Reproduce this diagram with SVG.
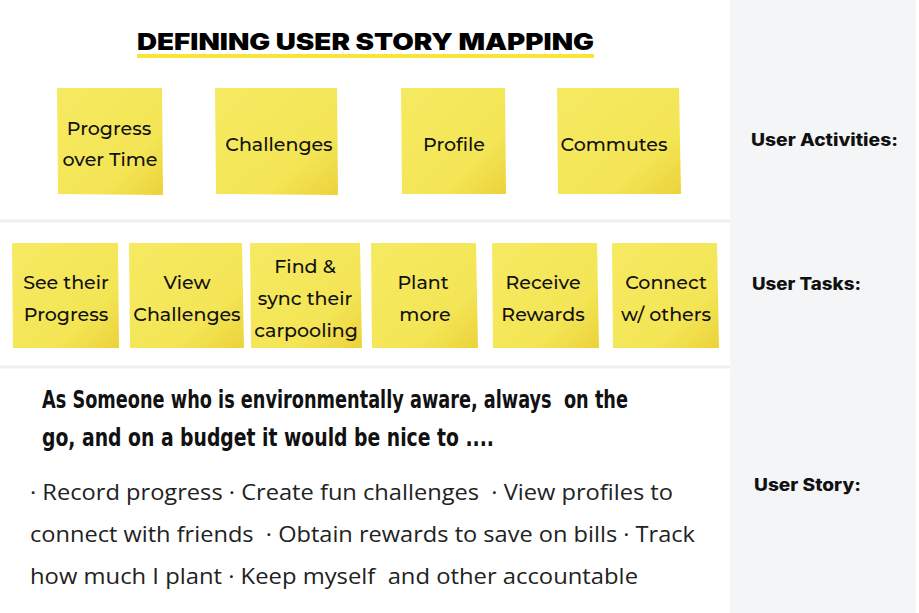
<svg xmlns="http://www.w3.org/2000/svg" width="919" height="613" viewBox="0 0 919 613">
<defs>
<linearGradient id="sticky" x1="0" y1="0" x2="1" y2="1">
<stop offset="0" stop-color="#f6ea62"/>
<stop offset="0.7" stop-color="#f3e555"/>
<stop offset="1" stop-color="#ecd23a"/>
</linearGradient>
<style>
.note{fill:url(#sticky);}
.nt{font-family:"Montserrat","Inter","Liberation Sans",sans-serif;font-size:19px;font-weight:500;fill:#111;text-anchor:middle;}
.lbl{font-family:"Inter","Liberation Sans",sans-serif;font-size:17px;font-weight:800;fill:#111;}
.hand{font-family:"DejaVu Sans Condensed","Liberation Sans Narrow",sans-serif;font-size:24px;font-weight:bold;fill:#111;white-space:pre;}
.body{font-family:"Open Sans","Liberation Sans",sans-serif;font-size:21px;fill:#222;white-space:pre;}
.div{stroke:#efefef;stroke-width:3;}
</style>
</defs>
<rect width="919" height="613" fill="#ffffff"/>
<rect x="730" y="0" width="186" height="613" fill="#f4f5f7"/>
<g id="connectors">
<line class="div" x1="0" y1="221" x2="730" y2="221"/>
<line class="div" x1="0" y1="367" x2="730" y2="367"/>
</g>
<g id="title">
<rect x="137" y="54" width="457" height="4" fill="#f7e53b"/>
<text x="137" y="50" font-family="Inter,'Liberation Sans',sans-serif" font-size="23" font-weight="900" fill="#000" textLength="457" lengthAdjust="spacingAndGlyphs">DEFINING USER STORY MAPPING</text>
</g>
<g id="activity-progress"><polygon class="note" points="57,88 162,88 163,195 58,194"/><text class="nt" x="109" y="135">Progress</text><text class="nt" x="110" y="166">over Time</text></g>
<g id="activity-challenges"><polygon class="note" points="215,88 337,88 338,195 216,194"/><text class="nt" x="279" y="151">Challenges</text></g>
<g id="activity-profile"><polygon class="note" points="401,88 505,88 506,194 402,194"/><text class="nt" x="454" y="151">Profile</text></g>
<g id="activity-commutes"><polygon class="note" points="557,88 679,88 681,194 558,194"/><text class="nt" x="614" y="151">Commutes</text></g>
<g id="task-progress"><polygon class="note" points="12,243 118,243 119,348 13,348"/><text class="nt" x="66" y="289">See their</text><text class="nt" x="66" y="321">Progress</text></g>
<g id="task-challenges"><polygon class="note" points="129,243 242,243 244,348 130,348"/><text class="nt" x="187" y="289">View</text><text class="nt" x="187" y="321">Challenges</text></g>
<g id="task-carpool"><polygon class="note" points="250,243 360,243 362,348 251,348"/><text class="nt" x="305" y="273">Find &amp;</text><text class="nt" x="305" y="305">sync their</text><text class="nt" x="306" y="337">carpooling</text></g>
<g id="task-plant"><polygon class="note" points="371,243 476,243 478,348 372,348"/><text class="nt" x="423" y="289">Plant</text><text class="nt" x="425" y="321">more</text></g>
<g id="task-rewards"><polygon class="note" points="492,243 597,243 599,348 493,348"/><text class="nt" x="543" y="289">Receive</text><text class="nt" x="543" y="321">Rewards</text></g>
<g id="task-connect"><polygon class="note" points="612,243 717,243 719,348 613,348"/><text class="nt" x="666" y="289">Connect</text><text class="nt" x="666" y="321">w/ others</text></g>
<g id="story">
<text class="hand" xml:space="preserve" x="42" y="408" textLength="586" lengthAdjust="spacingAndGlyphs">As Someone who is environmentally aware, always  on the</text>
<text class="hand" x="42" y="446" textLength="452" lengthAdjust="spacingAndGlyphs">go, and on a budget it would be nice to ....</text>
<text class="body" xml:space="preserve" x="30" y="500" textLength="643" lengthAdjust="spacingAndGlyphs">· Record progress · Create fun challenges  · View profiles to</text>
<text class="body" xml:space="preserve" x="30" y="542" textLength="665" lengthAdjust="spacingAndGlyphs">connect with friends  · Obtain rewards to save on bills · Track</text>
<text class="body" xml:space="preserve" x="30" y="584" textLength="608" lengthAdjust="spacingAndGlyphs">how much I plant · Keep myself  and other accountable</text>
</g>
<g id="labels">
<text class="lbl" x="751" y="146" textLength="147" lengthAdjust="spacingAndGlyphs">User Activities:</text>
<text class="lbl" x="752" y="290" textLength="109" lengthAdjust="spacingAndGlyphs">User Tasks:</text>
<text class="lbl" x="754" y="491" textLength="107" lengthAdjust="spacingAndGlyphs">User Story:</text>
</g>
</svg>
